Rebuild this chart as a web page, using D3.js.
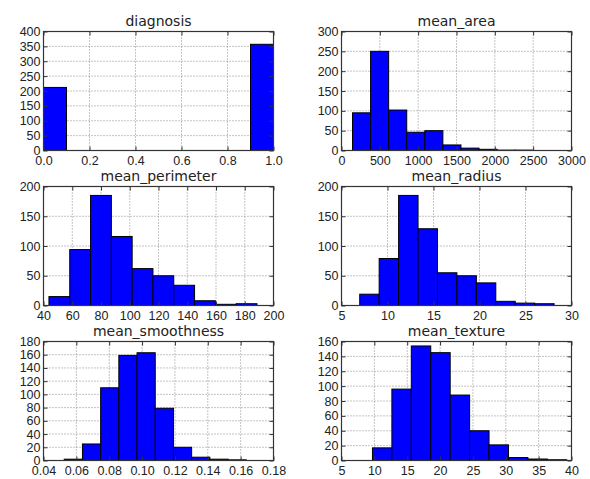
<!DOCTYPE html>
<html>
<head>
<meta charset="utf-8">
<script src="https://cdn.jsdelivr.net/npm/d3@7"></script>
<style>
  body { margin: 0; background: #fff; }
  svg { font-family: "DejaVu Sans", sans-serif; }
  .tick text { fill: #222; font-size: 12.5px; }
  .title { fill: #222; font-size: 14px; text-anchor: middle; }
</style>
</head>
<body>
<div id="chart"></div>
<script>
// histogram counts, 10 bins each
var diagnosisCounts = [212, 0, 0, 0, 0, 0, 0, 0, 0, 357];
var areaCounts = [95, 250, 102, 46, 50, 14, 6, 3, 1, 1];
var perimeterCounts = [15, 94, 185, 116, 62, 50, 34, 8, 2, 3];
var radiusCounts = [19, 79, 185, 129, 55, 50, 38, 7, 4, 3];
var smoothnessCounts = [2, 25, 110, 159, 163, 79, 20, 5, 2, 1];
var textureCounts = [17, 96, 154, 145, 88, 40, 21, 4, 2, 1];

// bin ranges (min, max of each column)
var diagnosisRange = [0, 1];
var areaRange = [143.5, 2501];
var perimeterRange = [43.79, 188.5];
var radiusRange = [6.981, 28.11];
var smoothnessRange = [0.05263, 0.1634];
var textureRange = [9.71, 39.28];

// axis ticks
var diagnosisXTicks = [0, 0.2, 0.4, 0.6, 0.8, 1.0];
var areaXTicks = [0, 500, 1000, 1500, 2000, 2500, 3000];
var perimeterXTicks = [40, 60, 80, 100, 120, 140, 160, 180, 200];
var radiusXTicks = [5, 10, 15, 20, 25, 30];
var smoothnessXTicks = [0.04, 0.06, 0.08, 0.10, 0.12, 0.14, 0.16, 0.18];
var textureXTicks = [5, 10, 15, 20, 25, 30, 35, 40];

var panels = [
  {title: "diagnosis", counts: diagnosisCounts, range: diagnosisRange, xTicks: diagnosisXTicks, xFmt: d3.format(".1f"), yMax: 400, yStep: 50},
  {title: "mean_area", counts: areaCounts, range: areaRange, xTicks: areaXTicks, xFmt: d3.format("d"), yMax: 300, yStep: 50},
  {title: "mean_perimeter", counts: perimeterCounts, range: perimeterRange, xTicks: perimeterXTicks, xFmt: d3.format("d"), yMax: 200, yStep: 50},
  {title: "mean_radius", counts: radiusCounts, range: radiusRange, xTicks: radiusXTicks, xFmt: d3.format("d"), yMax: 200, yStep: 50},
  {title: "mean_smoothness", counts: smoothnessCounts, range: smoothnessRange, xTicks: smoothnessXTicks, xFmt: d3.format(".2f"), yMax: 180, yStep: 20},
  {title: "mean_texture", counts: textureCounts, range: textureRange, xTicks: textureXTicks, xFmt: d3.format("d"), yMax: 160, yStep: 20}
];

var svgWidth = 590;
var svgHeight = 479;

var colLeft = [43.5, 341.5];
var rowTop = [31.5, 186.5, 341.5];
var width = 230;
var height = 119;

var svg = d3.select("#chart")
  .append("svg")
  .attr("width", svgWidth)
  .attr("height", svgHeight);

panels.forEach(function(p, i) {
  var g = svg.append("g")
    .attr("transform", `translate(${colLeft[i % 2]}, ${rowTop[Math.floor(i / 2)]})`);

  var x = d3.scaleLinear()
    .domain([p.xTicks[0], p.xTicks[p.xTicks.length - 1]])
    .range([0, width]);
  var y = d3.scaleLinear()
    .domain([0, p.yMax])
    .range([height, 0]);

  var yTicks = d3.range(0, p.yMax + p.yStep / 2, p.yStep);
  var binW = (p.range[1] - p.range[0]) / p.counts.length;

  // grid
  g.append("g").selectAll("line")
    .data(p.xTicks.slice(1, -1))
    .enter().append("line")
    .attr("x1", d => x(d)).attr("x2", d => x(d))
    .attr("y1", 0).attr("y2", height)
    .attr("stroke", "#888").attr("stroke-width", 1)
    .attr("stroke-dasharray", "1,2");
  g.append("g").selectAll("line")
    .data(yTicks.slice(1, -1))
    .enter().append("line")
    .attr("x1", 0).attr("x2", width)
    .attr("y1", d => y(d)).attr("y2", d => y(d))
    .attr("stroke", "#888").attr("stroke-width", 1)
    .attr("stroke-dasharray", "1,2");

  // bars
  g.append("g").selectAll("rect")
    .data(p.counts)
    .enter().append("rect")
    .attr("x", (d, j) => x(p.range[0] + j * binW))
    .attr("width", (d, j) => x(p.range[0] + (j + 1) * binW) - x(p.range[0] + j * binW))
    .attr("y", d => y(d))
    .attr("height", d => height - y(d))
    .attr("fill", "#0000ff")
    .attr("stroke", "#000")
    .attr("stroke-width", d => d > 0 ? 1 : 0);

  // axes, ticks pointing inward
  g.append("g")
    .attr("transform", `translate(0, ${height})`)
    .call(d3.axisBottom(x).tickValues(p.xTicks).tickFormat(p.xFmt).tickSizeInner(-4).tickSizeOuter(0).tickPadding(6))
    .call(a => a.select(".domain").remove());
  g.append("g")
    .call(d3.axisTop(x).tickValues(p.xTicks).tickFormat("").tickSizeInner(-4).tickSizeOuter(0))
    .call(a => a.select(".domain").remove());
  g.append("g")
    .call(d3.axisLeft(y).tickValues(yTicks).tickFormat(d3.format("d")).tickSizeInner(-4).tickSizeOuter(0).tickPadding(3))
    .call(a => a.select(".domain").remove());
  g.append("g")
    .attr("transform", `translate(${width}, 0)`)
    .call(d3.axisRight(y).tickValues(yTicks).tickFormat("").tickSizeInner(-4).tickSizeOuter(0))
    .call(a => a.select(".domain").remove());

  g.selectAll(".tick line").attr("stroke", "#333");

  // frame
  g.append("rect")
    .attr("width", width).attr("height", height)
    .attr("fill", "none")
    .attr("stroke", "#333").attr("stroke-width", 1.2);

  g.append("text")
    .attr("class", "title")
    .attr("x", width / 2)
    .attr("y", -6)
    .text(p.title);
});
</script>
</body>
</html>
